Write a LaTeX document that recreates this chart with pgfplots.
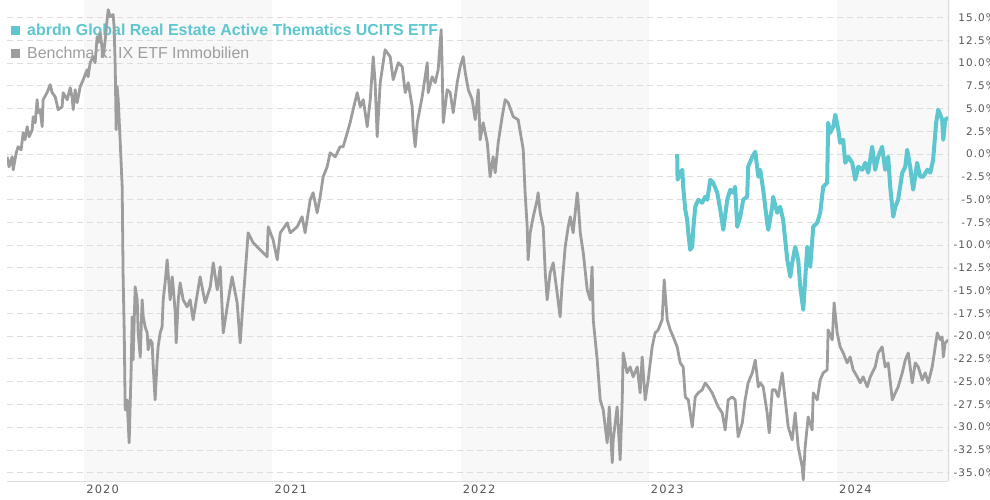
\documentclass[border=0pt]{standalone}
\usepackage{fontspec}
\setmainfont{Liberation Sans}
\newfontfamily\tickfont[LetterSpace=10]{DejaVu Sans}
\usepackage{pgfplots}
\pgfplotsset{compat=1.18}
\definecolor{teal1}{HTML}{5DC6CE}
\definecolor{bench}{HTML}{9D9D9D}
\definecolor{band}{HTML}{F8F8F8}
\definecolor{gridc}{HTML}{DDDDDD}
\definecolor{labc}{HTML}{555555}
\begin{document}
\begin{tikzpicture}
\begin{axis}[
  set layers,
  scale only axis, width=941bp, height=481bp,
  at={(0,0)}, anchor=south west,
  xmin=2019.59, xmax=2024.59, ymin=-35.91, ymax=16.92,
  axis x line=bottom, axis y line=right,
  axis line style={gridc, -, line width=1bp},
  major tick length=0pt,
  xtick={2020,2021,2022,2023,2024},
  xticklabels={2020,2021,2022,2023,2024},
  ytick={-35,-32.5,...,15},
  yticklabel={\pgfmathprintnumber[fixed,fixed zerofill,precision=1]{\tick}\%},
  /pgf/number format/assume math mode=true,
  yticklabel style={font=\tickfont\fontsize{10.5}{10.5}\selectfont, text=labc, anchor=east, inner sep=0pt, xshift=48bp},
  xticklabel style={font=\tickfont\fontsize{11.5}{11.5}\selectfont, text=labc, anchor=base west, inner sep=0pt, xshift=2bp, yshift=-12bp},
  ymajorgrids,
  major grid style={gridc, dash pattern=on 6bp off 4bp, line width=0.9bp},
]
\addplot[fill=band, draw=none, on layer=axis background, forget plot] coordinates {(2020,-35.91) (2021,-35.91) (2021,16.92) (2020,16.92)};
\addplot[fill=band, draw=none, on layer=axis background, forget plot] coordinates {(2022,-35.91) (2023,-35.91) (2023,16.92) (2022,16.92)};
\addplot[fill=band, draw=none, on layer=axis background, forget plot] coordinates {(2024,-35.91) (2024.6,-35.91) (2024.6,16.92) (2024,16.92)};

\node[anchor=base west, inner sep=0pt, font=\fontsize{16}{16}\selectfont\bfseries, text=teal1] at (axis description cs:0.00425,0.927) {\textcolor{teal1}{\rule{9bp}{9bp}}\hspace{7bp}abrdn Global Real Estate Active Thematics UCITS ETF};
\node[anchor=base west, inner sep=0pt, font=\fontsize{16}{16}\selectfont, text=bench] at (axis description cs:0.00425,0.8788) {\textcolor{bench}{\rule{9bp}{9bp}}\hspace{7bp}Benchmark: IX ETF Immobilien};

\addplot[bench, line width=2.8bp, line join=round] coordinates {
(2019.591,-0.30) (2019.601,-1.40) (2019.617,-0.30) (2019.623,-1.73) (2019.639,0.14) (2019.649,0.80)
(2019.665,0.47) (2019.676,2.34) (2019.686,1.57) (2019.697,3.00) (2019.708,1.90) (2019.724,2.67)
(2019.729,4.10) (2019.740,3.44) (2019.750,5.97) (2019.756,4.54) (2019.766,4.87) (2019.777,3.00)
(2019.782,5.97) (2019.803,6.74) (2019.819,7.62) (2019.830,6.74) (2019.846,6.30) (2019.862,4.87)
(2019.883,5.20) (2019.888,6.74) (2019.910,5.97) (2019.926,7.29) (2019.936,6.19) (2019.942,4.87)
(2019.952,7.07) (2019.963,5.64) (2019.979,7.40) (2019.995,8.16) (2020.016,9.26) (2020.021,8.49)
(2020.032,10.03) (2020.048,10.69) (2020.058,10.03) (2020.069,12.89) (2020.074,12.23) (2020.085,13.33)
(2020.101,10.69) (2020.112,12.56) (2020.122,14.76) (2020.128,15.86) (2020.138,15.09) (2020.154,15.31)
(2020.159,13.99) (2020.165,9.59) (2020.170,2.67) (2020.175,7.40) (2020.181,5.97) (2020.191,1.57)
(2020.202,-3.59) (2020.207,-13.48) (2020.213,-19.64) (2020.218,-28.10) (2020.228,-27.00) (2020.234,-29.53)
(2020.239,-31.72) (2020.250,-23.38) (2020.255,-17.88) (2020.260,-22.61) (2020.271,-14.58) (2020.282,-16.01)
(2020.287,-19.64) (2020.298,-22.28) (2020.308,-16.01) (2020.314,-17.88) (2020.324,-18.98) (2020.335,-19.64)
(2020.340,-21.51) (2020.351,-20.41) (2020.361,-20.74) (2020.367,-23.38) (2020.377,-27.00) (2020.388,-22.61)
(2020.393,-21.18) (2020.404,-19.64) (2020.414,-18.98) (2020.420,-16.01) (2020.430,-14.14) (2020.441,-11.62)
(2020.446,-13.04) (2020.457,-16.01) (2020.468,-13.48) (2020.473,-14.58) (2020.484,-17.44) (2020.489,-20.74)
(2020.500,-16.01) (2020.510,-14.14) (2020.526,-16.01) (2020.547,-16.78) (2020.563,-16.01) (2020.579,-18.21)
(2020.616,-13.48) (2020.643,-16.34) (2020.670,-14.58) (2020.686,-11.95) (2020.707,-14.91) (2020.723,-12.39)
(2020.739,-19.64) (2020.760,-16.78) (2020.786,-13.48) (2020.813,-16.34) (2020.829,-20.74) (2020.845,-16.01)
(2020.866,-10.19) (2020.871,-8.65) (2020.898,-9.75) (2020.935,-10.52) (2020.972,-11.29) (2020.978,-7.99)
(2021.004,-9.42) (2021.026,-11.62) (2021.042,-8.65) (2021.079,-7.55) (2021.095,-8.65) (2021.132,-7.99)
(2021.158,-6.89) (2021.174,-8.65) (2021.201,-5.02) (2021.217,-4.25) (2021.238,-6.45) (2021.254,-4.69)
(2021.270,-2.49) (2021.291,-1.40) (2021.307,0.14) (2021.334,-0.30) (2021.360,0.80) (2021.376,0.80)
(2021.398,2.34) (2021.413,3.44) (2021.429,4.87) (2021.451,6.74) (2021.467,5.20) (2021.483,5.97)
(2021.504,3.00) (2021.520,5.97) (2021.536,10.69) (2021.546,7.84) (2021.557,1.90) (2021.573,7.84)
(2021.599,11.46) (2021.626,10.69) (2021.642,8.16) (2021.669,10.03) (2021.690,9.59) (2021.706,6.74)
(2021.722,7.84) (2021.743,5.20) (2021.748,3.00) (2021.759,0.80) (2021.770,3.44) (2021.796,6.30)
(2021.823,10.03) (2021.828,6.74) (2021.849,8.49) (2021.865,7.84) (2021.881,9.26) (2021.897,13.66)
(2021.902,9.59) (2021.908,3.44) (2021.929,7.07) (2021.945,6.74) (2021.961,4.54) (2021.982,7.84)
(2021.998,9.59) (2022.014,10.69) (2022.025,8.93) (2022.041,7.07) (2022.062,5.97) (2022.078,3.77)
(2022.094,7.07) (2022.104,1.57) (2022.120,3.44) (2022.142,1.24) (2022.157,-2.49) (2022.173,-0.30)
(2022.184,-2.05) (2022.200,1.24) (2022.221,4.10) (2022.237,5.97) (2022.253,5.64) (2022.280,4.10)
(2022.306,3.77) (2022.327,1.24) (2022.333,0.47) (2022.343,-4.25) (2022.354,-7.99) (2022.359,-11.62)
(2022.370,-8.65) (2022.386,-6.89) (2022.407,-5.02) (2022.412,-4.25) (2022.423,-6.45) (2022.439,-7.99)
(2022.450,-13.04) (2022.460,-16.01) (2022.476,-13.04) (2022.492,-11.95) (2022.513,-15.24) (2022.529,-17.88)
(2022.540,-14.14) (2022.556,-10.19) (2022.572,-7.99) (2022.583,-6.89) (2022.598,-8.65) (2022.620,-4.25)
(2022.625,-5.35) (2022.636,-8.65) (2022.652,-10.85) (2022.673,-14.91) (2022.689,-16.01) (2022.699,-12.39)
(2022.705,-18.21) (2022.726,-22.61) (2022.742,-27.00) (2022.758,-28.10) (2022.779,-31.72) (2022.790,-27.77)
(2022.806,-33.91) (2022.811,-31.39) (2022.832,-27.77) (2022.848,-33.58) (2022.859,-27.00) (2022.864,-21.84)
(2022.885,-24.03) (2022.901,-23.38) (2022.917,-24.47) (2022.939,-23.38) (2022.954,-26.23) (2022.965,-22.28)
(2022.981,-27.00) (2022.997,-24.80) (2023.018,-21.18) (2023.034,-19.64) (2023.050,-19.31) (2023.071,-18.21)
(2023.082,-13.81) (2023.098,-18.21) (2023.114,-19.31) (2023.130,-20.08) (2023.151,-21.18) (2023.167,-22.94)
(2023.183,-23.38) (2023.194,-26.67) (2023.210,-27.00) (2023.231,-29.97) (2023.247,-26.67) (2023.263,-26.23)
(2023.284,-25.90) (2023.300,-25.13) (2023.316,-25.57) (2023.337,-26.23) (2023.353,-27.00) (2023.369,-27.77)
(2023.390,-28.43) (2023.406,-30.30) (2023.422,-27.00) (2023.443,-26.67) (2023.459,-27.00) (2023.475,-31.06)
(2023.497,-29.53) (2023.512,-27.00) (2023.528,-25.13) (2023.550,-24.03) (2023.566,-22.61) (2023.582,-25.57)
(2023.592,-25.13) (2023.608,-25.57) (2023.629,-28.43) (2023.640,-30.62) (2023.656,-25.90) (2023.672,-25.90)
(2023.688,-26.67) (2023.709,-24.03) (2023.725,-27.00) (2023.741,-29.97) (2023.762,-31.39) (2023.778,-28.43)
(2023.794,-32.16) (2023.815,-34.35) (2023.821,-35.78) (2023.831,-32.16) (2023.847,-28.87) (2023.868,-30.30)
(2023.874,-26.23) (2023.895,-27.00) (2023.911,-24.80) (2023.927,-24.03) (2023.948,-23.70) (2023.953,-19.31)
(2023.975,-20.41) (2023.985,-16.34) (2024.001,-19.64) (2024.017,-21.18) (2024.033,-21.84) (2024.054,-22.94)
(2024.070,-22.28) (2024.086,-23.70) (2024.108,-24.47) (2024.124,-25.13) (2024.139,-24.47) (2024.161,-25.57)
(2024.177,-24.47) (2024.203,-23.38) (2024.219,-21.84) (2024.240,-21.18) (2024.256,-23.38) (2024.272,-22.94)
(2024.294,-27.00) (2024.310,-26.23) (2024.325,-25.57) (2024.347,-24.03) (2024.363,-22.61) (2024.379,-21.84)
(2024.400,-25.13) (2024.416,-22.94) (2024.432,-23.38) (2024.453,-24.80) (2024.469,-24.03) (2024.485,-25.13)
(2024.506,-23.38) (2024.522,-21.18) (2024.533,-19.64) (2024.549,-20.41) (2024.559,-20.08) (2024.565,-22.28)
(2024.575,-20.74) (2024.591,-20.41)
};

\addplot[teal1, line width=4bp, line join=round] coordinates {
(2023.151,0.00) (2023.153,-2.82) (2023.167,-2.05) (2023.178,-1.73) (2023.183,-3.59) (2023.194,-6.12)
(2023.204,-7.22) (2023.210,-8.65) (2023.220,-10.52) (2023.231,-10.19) (2023.236,-8.32) (2023.247,-5.79)
(2023.263,-5.02) (2023.284,-5.35) (2023.300,-4.69) (2023.311,-5.02) (2023.327,-2.82) (2023.342,-3.15)
(2023.364,-4.25) (2023.380,-6.12) (2023.396,-8.32) (2023.417,-5.02) (2023.433,-3.92) (2023.449,-4.25)
(2023.459,-3.59) (2023.470,-7.99) (2023.486,-6.89) (2023.502,-5.02) (2023.523,-4.69) (2023.528,-1.40)
(2023.550,-0.30) (2023.566,0.25) (2023.582,-2.49) (2023.592,-1.73) (2023.608,-3.92) (2023.629,-7.55)
(2023.635,-8.32) (2023.656,-5.79) (2023.661,-4.69) (2023.682,-6.45) (2023.698,-5.79) (2023.714,-7.22)
(2023.736,-11.62) (2023.752,-13.48) (2023.762,-11.95) (2023.778,-10.19) (2023.794,-11.62) (2023.805,-14.58)
(2023.821,-17.11) (2023.842,-10.19) (2023.858,-12.39) (2023.874,-7.99) (2023.895,-7.55) (2023.911,-6.45)
(2023.927,-3.59) (2023.948,-3.15) (2023.953,3.44) (2023.964,2.34) (2023.980,3.00) (2023.991,4.32)
(2024.007,2.67) (2024.017,1.24) (2024.033,1.57) (2024.044,-0.96) (2024.060,-0.30) (2024.081,-0.96)
(2024.097,-2.82) (2024.113,-1.40) (2024.134,-1.73) (2024.150,-0.96) (2024.166,-2.05) (2024.187,0.80)
(2024.203,-1.73) (2024.219,-0.30) (2024.240,0.80) (2024.256,-1.73) (2024.272,-0.30) (2024.283,-3.59)
(2024.299,-6.89) (2024.310,-5.79) (2024.325,-5.02) (2024.347,-2.05) (2024.363,-1.40) (2024.373,0.47)
(2024.389,-1.40) (2024.405,-3.92) (2024.426,-0.96) (2024.442,-2.49) (2024.458,-2.49) (2024.480,-1.73)
(2024.496,-2.05) (2024.511,-0.63) (2024.527,3.44) (2024.538,4.87) (2024.559,3.77) (2024.565,1.57)
(2024.575,3.77) (2024.591,3.99)
};
\end{axis}
\pgfresetboundingbox
\path[use as bounding box] (-7bp,-19bp) rectangle (983bp,481bp);
\end{tikzpicture}
\end{document}
